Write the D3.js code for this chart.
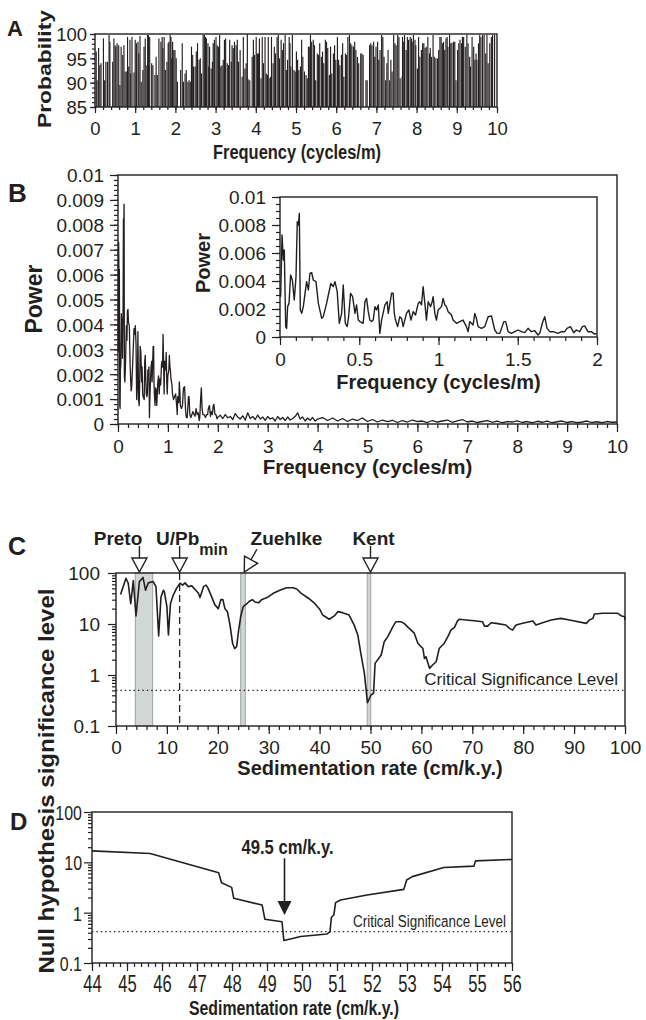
<!DOCTYPE html>
<html>
<head>
<meta charset="utf-8">
<script src="https://cdn.jsdelivr.net/npm/d3@7"></script>
<style>
  body { margin: 0; background: #fff; }
</style>
</head>
<body>
<svg id="fig" width="646" height="1020"></svg>
<script>
// ---- data ----

// A: probability of each spectral line (only lines above 85 % show)
const probFreq = [
  0.03, 0.05, 0.09, 0.12, 0.15, 0.21, 0.24, 0.27, 0.31, 0.35,
  0.37, 0.44, 0.47, 0.50, 0.52, 0.55, 0.59, 0.62, 0.65, 0.69,
  0.72, 0.75, 0.79, 0.81, 0.84, 0.87, 0.89, 0.92, 0.97, 1.00,
  1.03, 1.07, 1.09, 1.12, 1.15, 1.19, 1.22, 1.25, 1.29, 1.31,
  1.33, 1.36, 1.41, 1.44, 1.49, 1.52, 1.55, 1.59, 1.64, 1.67,
  1.69, 1.72, 1.75, 1.79, 1.82, 1.84, 1.87, 1.89, 1.91, 1.93,
  1.96, 1.99, 2.02, 2.05, 2.13, 2.17, 2.20, 2.24, 2.27, 2.31,
  2.34, 2.37, 2.40, 2.43, 2.45, 2.49, 2.52, 2.55, 2.59, 2.62,
  2.65, 2.69, 2.72, 2.75, 2.77, 2.81, 2.83, 2.85, 2.89, 2.92,
  2.94, 2.97, 3.01, 3.04, 3.07, 3.10, 3.13, 3.16, 3.19, 3.22,
  3.25, 3.29, 3.32, 3.35, 3.39, 3.41, 3.44, 3.47, 3.51, 3.54,
  3.57, 3.61, 3.66, 3.69, 3.73, 3.76, 3.79, 3.81, 3.85, 3.91,
  3.94, 3.97, 4.01, 4.04, 4.07, 4.09, 4.13, 4.16, 4.19, 4.23,
  4.26, 4.29, 4.31, 4.35, 4.37, 4.39, 4.43, 4.46, 4.49, 4.53,
  4.56, 4.59, 4.63, 4.66, 4.69, 4.73, 4.76, 4.79, 4.83, 4.85,
  4.87, 4.91, 4.95, 4.98, 5.01, 5.04, 5.07, 5.11, 5.14, 5.17,
  5.21, 5.25, 5.28, 5.31, 5.33, 5.36, 5.39, 5.43, 5.46, 5.49,
  5.53, 5.56, 5.59, 5.63, 5.66, 5.69, 5.73, 5.76, 5.79, 5.83,
  5.86, 5.89, 5.93, 5.96, 5.99, 6.03, 6.06, 6.09, 6.13, 6.16,
  6.19, 6.23, 6.26, 6.29, 6.33, 6.36, 6.39, 6.43, 6.46, 6.49,
  6.53, 6.56, 6.61, 6.64, 6.67, 6.74, 6.77, 6.83, 6.86, 6.89,
  6.93, 6.96, 6.99, 7.03, 7.06, 7.09, 7.13, 7.16, 7.19, 7.23,
  7.26, 7.29, 7.33, 7.36, 7.39, 7.43, 7.46, 7.49, 7.53, 7.56,
  7.59, 7.64, 7.65, 7.68, 7.70, 7.74, 7.77, 7.80, 7.84, 7.87,
  7.89, 7.92, 7.96, 7.98, 8.02, 8.05, 8.08, 8.12, 8.15, 8.18,
  8.21, 8.24, 8.28, 8.32, 8.34, 8.37, 8.41, 8.44, 8.48, 8.52,
  8.55, 8.58, 8.61, 8.64, 8.67, 8.70, 8.73, 8.76, 8.78, 8.82,
  8.85, 8.88, 8.92, 8.95, 8.98, 9.02, 9.05, 9.08, 9.12, 9.14,
  9.17, 9.21, 9.25, 9.28, 9.32, 9.34, 9.38, 9.42, 9.45, 9.48,
  9.50, 9.54, 9.57, 9.60, 9.64, 9.68, 9.72, 9.75, 9.78, 9.82,
  9.86, 9.89, 9.94
];
const probVal = [
  96.4, 90.5, 97.1, 93.6, 94.0, 99.1, 90.5, 94.3, 94.3, 99.8,
  98.4, 94.3, 99.1, 97.7, 97.4, 98.1, 97.7, 89.5, 97.4, 95.7,
  97.7, 92.3, 92.3, 99.4, 93.3, 98.8, 91.9, 99.4, 92.1, 98.8,
  98.1, 98.4, 96.0, 99.6, 90.2, 92.6, 97.4, 99.1, 93.6, 99.8,
  99.8, 99.4, 94.0, 93.6, 91.6, 95.3, 91.6, 99.1, 98.4, 99.4,
  97.1, 99.4, 92.6, 94.3, 98.1, 98.4, 99.8, 99.4, 95.0, 98.4,
  96.7, 96.7, 95.0, 90.2, 92.6, 98.1, 90.2, 91.9, 92.6, 90.2,
  90.5, 90.2, 97.4, 95.7, 93.3, 93.3, 96.4, 98.1, 94.7, 95.0,
  91.9, 99.8, 99.8, 99.4, 99.1, 98.1, 93.3, 97.4, 92.9, 94.3,
  98.1, 98.8, 99.4, 97.7, 97.4, 99.8, 93.3, 93.6, 94.7, 98.8,
  99.1, 94.0, 93.6, 98.8, 94.3, 97.7, 97.1, 98.4, 97.7, 98.8,
  94.3, 96.7, 91.2, 99.4, 92.9, 94.0, 100, 90.7, 90.5, 95.3,
  98.8, 95.7, 99.4, 96.0, 96.0, 99.1, 90.9, 99.4, 94.0, 99.4,
  91.9, 91.6, 99.4, 90.9, 91.2, 99.4, 94.0, 97.4, 96.0, 99.4,
  99.8, 95.0, 98.8, 96.7, 98.1, 99.8, 92.6, 94.7, 99.4, 98.1,
  93.3, 99.8, 92.6, 92.3, 96.4, 94.7, 92.6, 93.3, 98.8, 95.3,
  92.3, 91.6, 90.9, 97.4, 97.4, 99.8, 98.4, 98.8, 97.7, 90.5,
  96.0, 95.7, 98.1, 95.3, 96.4, 94.0, 98.8, 98.4, 97.1, 91.6,
  97.4, 91.9, 96.0, 97.7, 94.7, 99.4, 94.7, 93.6, 95.7, 98.1,
  91.2, 96.0, 95.7, 99.4, 99.8, 98.1, 97.7, 97.4, 98.4, 96.7,
  95.3, 94.0, 96.0, 96.0, 95.7, 90.5, 90.5, 97.7, 98.1, 97.7,
  98.4, 95.3, 97.4, 98.4, 94.7, 96.7, 99.8, 99.4, 95.3, 90.5,
  94.0, 96.7, 90.5, 94.7, 92.3, 99.8, 98.1, 97.7, 99.8, 99.4,
  90.9, 91.2, 99.4, 98.4, 99.8, 96.7, 99.4, 98.8, 99.4, 99.1,
  98.4, 99.8, 98.8, 97.7, 92.9, 99.4, 95.3, 96.7, 98.1, 98.1,
  97.1, 97.4, 99.4, 96.0, 97.1, 95.3, 99.8, 95.3, 95.0, 95.0,
  96.7, 99.4, 99.4, 98.1, 98.4, 96.7, 99.1, 99.4, 97.4, 99.8,
  98.1, 98.2, 98.4, 98.4, 90.5, 96.7, 98.1, 98.8, 98.1, 99.4,
  99.4, 97.4, 99.8, 98.1, 95.3, 93.3, 99.4, 97.4, 94.7, 96.0,
  94.7, 98.1, 99.8, 99.4, 99.8, 99.8, 96.0, 99.8, 94.0, 98.1,
  99.4, 99.8, 99.8
];

// B: power spectrum (power in units of 1e-3)
const powerFreq = [
  0.004, 0.013, 0.021, 0.027, 0.036, 0.042, 0.048, 0.057, 0.067, 0.078,
  0.090, 0.101, 0.109, 0.116, 0.122, 0.128, 0.137, 0.147, 0.158, 0.168,
  0.179, 0.189, 0.200, 0.210, 0.227, 0.242, 0.263, 0.273, 0.294, 0.305,
  0.321, 0.336, 0.347, 0.361, 0.374, 0.389, 0.399, 0.412, 0.424, 0.433,
  0.445, 0.458, 0.473, 0.483, 0.494, 0.504, 0.525, 0.536, 0.546, 0.557,
  0.567, 0.578, 0.588, 0.599, 0.609, 0.620, 0.630, 0.641, 0.662, 0.676,
  0.683, 0.704, 0.714, 0.721, 0.729, 0.742, 0.756, 0.767, 0.777, 0.798,
  0.813, 0.826, 0.840, 0.855, 0.872, 0.882, 0.893, 0.903, 0.914, 0.924,
  0.935, 0.950, 0.960, 0.966, 0.977, 0.987, 0.998, 1.019, 1.029, 1.040,
  1.050, 1.061, 1.082, 1.092, 1.113, 1.134, 1.155, 1.176, 1.187, 1.197,
  1.218, 1.229, 1.239, 1.250, 1.271, 1.292, 1.313, 1.334, 1.355, 1.370,
  1.387, 1.412, 1.424, 1.439, 1.460, 1.481, 1.502, 1.523, 1.544, 1.565,
  1.586, 1.607, 1.628, 1.639, 1.655, 1.670, 1.685, 1.702, 1.723, 1.754,
  1.775, 1.796, 1.811, 1.832, 1.853, 1.870, 1.891, 1.908, 1.922, 1.943,
  1.964, 1.985, 1.996,
  2.05, 2.10, 2.15, 2.20, 2.25, 2.30, 2.35, 2.40, 2.45, 2.50,
  2.55, 2.60, 2.65, 2.70, 2.75, 2.80, 2.85, 2.90, 2.95, 3.00,
  3.05, 3.10, 3.15, 3.20, 3.25, 3.30, 3.35, 3.40, 3.45, 3.50,
  3.55, 3.60, 3.65, 3.70, 3.75, 3.80, 3.85, 3.90, 3.95, 4.00,
  4.1, 4.2, 4.3, 4.4, 4.5, 4.6, 4.7, 4.8, 4.9, 5.0,
  5.1, 5.2, 5.3, 5.4, 5.5, 5.6, 5.7, 5.8, 5.9, 6.0,
  6.1, 6.2, 6.3, 6.4, 6.5, 6.6, 6.7, 6.8, 6.9, 7.0,
  7.1, 7.2, 7.3, 7.4, 7.5, 7.6, 7.7, 7.8, 7.9, 8.0,
  8.1, 8.2, 8.3, 8.4, 8.5, 8.6, 8.7, 8.8, 8.9, 9.0,
  9.1, 9.2, 9.3, 9.4, 9.5, 9.6, 9.7, 9.8, 9.9, 10.0
];
const powerE3 = [
  2.88, 7.29, 5.50, 6.21, 0.74, 0.62, 2.17, 2.40, 4.43, 4.07,
  2.64, 4.31, 8.24, 8.00, 8.83, 1.93, 1.69, 2.17, 3.12, 3.95,
  3.36, 4.55, 4.60, 4.07, 3.95, 2.40, 1.33, 1.45, 2.40, 3.00,
  3.83, 3.60, 3.95, 3.24, 0.98, 1.69, 3.71, 0.98, 0.74, 1.45,
  3.12, 2.88, 1.69, 2.29, 1.21, 1.10, 0.98, 2.52, 2.76, 1.81,
  1.21, 1.10, 1.21, 2.17, 1.93, 2.29, 0.26, 1.21, 2.29, 2.52,
  1.69, 3.12, 3.12, 1.69, 1.21, 0.74, 1.45, 1.33, 0.74, 1.69,
  1.93, 1.21, 1.81, 1.57, 2.40, 2.52, 2.29, 3.60, 2.40, 1.21,
  2.52, 2.17, 2.52, 2.88, 1.69, 1.21, 1.93, 2.17, 2.76, 2.29,
  2.17, 1.81, 1.57, 1.21, 0.98, 1.10, 1.21, 0.74, 0.38, 1.10,
  0.86, 1.69, 1.33, 0.74, 0.62, 0.74, 1.45, 1.50, 0.50, 0.26,
  0.26, 1.10, 1.10, 0.38, 0.26, 0.38, 0.50, 0.38, 0.31, 0.62,
  0.38, 0.45, 0.14, 0.26, 0.98, 1.45, 0.62, 0.38, 0.38, 0.26,
  0.38, 0.38, 0.62, 0.74, 0.31, 0.50, 0.38, 0.74, 0.79, 0.38,
  0.38, 0.21, 0.26,
  0.35, 0.22, 0.38, 0.25, 0.30, 0.18, 0.42, 0.28, 0.20, 0.33,
  0.15, 0.45, 0.22, 0.30, 0.18, 0.36, 0.20, 0.28, 0.15, 0.30,
  0.20, 0.25, 0.12, 0.30, 0.18, 0.26, 0.14, 0.28, 0.16, 0.22,
  0.30, 0.45, 0.20, 0.28, 0.12, 0.24, 0.15, 0.26, 0.12, 0.20,
  0.26, 0.14, 0.24, 0.12, 0.22, 0.10, 0.20, 0.14, 0.24, 0.10,
  0.18, 0.08, 0.16, 0.10, 0.15, 0.06, 0.14, 0.08, 0.16, 0.10,
  0.12, 0.06, 0.14, 0.08, 0.12, 0.16, 0.07, 0.13, 0.18, 0.08,
  0.12, 0.06, 0.10, 0.14, 0.07, 0.12, 0.05, 0.10, 0.08, 0.13,
  0.06, 0.10, 0.05, 0.11, 0.07, 0.12, 0.05, 0.09, 0.12, 0.06,
  0.10, 0.05, 0.08, 0.12, 0.06, 0.09, 0.05, 0.10, 0.07, 0.08
];

// C: null hypothesis significance level vs sedimentation rate
const sedRate = [
  0.9, 1.96, 2.4, 2.9, 3.4, 3.93, 4.6, 5.0, 5.3, 5.8,
  6.35, 7.3, 7.85, 8.38, 8.84, 9.3, 9.5, 10.0, 10.3, 10.7,
  11.25, 11.9, 12.57, 13.1, 13.56, 14.2, 14.9, 15.5, 16.2, 16.5,
  17.2, 17.7, 18.1, 18.8, 19.4, 20.1, 20.6, 21.0, 21.4, 21.9,
  22.4, 22.9, 23.3, 23.7, 24.1, 24.5, 25.0, 25.7, 26.2, 26.8,
  27.3, 28.0, 28.6, 29.3, 29.9, 30.9, 32.2, 33.5, 34.8, 35.5,
  36.4, 37.8, 39.1, 40.1, 40.6, 41.9, 42.9, 43.6, 44.5, 45.8,
  46.8, 47.5, 48.1, 48.8, 49.4, 50.1, 50.6, 50.9, 52.1, 52.7,
  53.4, 54.4, 55.0, 56.0, 56.6, 57.6, 58.6, 59.3, 60.3, 60.6,
  60.9, 61.6, 62.2, 62.9, 63.5, 64.5, 65.2, 65.8, 66.5, 67.1,
  67.4, 68.8, 70.4, 72.0, 72.4, 73.0, 73.7, 74.7, 76.6, 77.3,
  77.9, 78.6, 79.9, 81.9, 82.5, 83.8, 85.5, 87.4, 89.1, 92.4,
  93.0, 93.7, 94.0, 95.6, 98.6, 99.3, 99.9, 100
];
const sedSig = [
  38, 79, 63, 25, 71, 14.4, 68, 75, 82, 46,
  64, 68, 54, 5.8, 34, 46, 43, 22, 6.1, 25,
  37, 50, 63, 58, 64, 54, 56, 48, 40, 33,
  54, 58, 50, 34, 24, 20, 30, 30, 20, 17.4,
  9.5, 4.2, 3.3, 3.6, 7.6, 14, 22, 25, 28, 30,
  27, 26, 30, 32, 34, 40, 46, 51.5, 51.5, 48.5,
  40, 32, 25, 19, 15, 12.4, 14.4, 17.5, 16.7, 15,
  9.5, 6.1, 2.66, 1.08, 0.286, 0.405, 0.44, 1.69, 2.47, 4.5,
  5.65, 8.9, 11.1, 11.1, 10.3, 8.2, 6.6, 4.2, 3.3, 2.1,
  2.29, 1.35, 1.57, 1.82, 3.3, 4.2, 5.65, 7.6, 8.6, 11.5,
  12.4, 12, 11.6, 11.1, 9.1, 9.1, 10.6, 10.3, 9.55, 8.2,
  7.6, 9.55, 10.3, 11.5, 9.55, 10.6, 12, 12.9, 12, 10.3,
  12, 12.9, 15.7, 16.2, 16.2, 14.4, 14, 12
];

// C: dated constraints (shaded bands) and arrows
const bandStart = [3.8, 24.5, 49.35];
const bandEnd = [7.2, 25.4, 50.05];
const markerRate = [4.6, 12.5, 25.2, 50];
const markerTilt = [0, 0, 29, 0];
const uPbMin = 12.5;
const criticalC = 0.5;

// D: close-up round the minimum
const fineRate = [
  44, 45.66, 47.62, 47.7, 47.99, 48.05, 48.86, 48.94, 49.43, 49.48,
  49.67, 49.96, 50.34, 50.72, 50.8, 50.84, 50.91, 50.96, 51.1, 51.86,
  52.91, 52.99, 53.15, 54.05, 54.91, 54.96, 56
];
const fineSig = [
  16.9, 15, 6.2, 3.93, 3.18, 1.93, 1.42, 0.74, 0.66, 0.28,
  0.30, 0.335, 0.356, 0.378, 0.42, 0.81, 0.9, 1.58, 1.78, 2.24,
  2.9, 4.45, 5.2, 7.9, 8.4, 10.7, 11.4
];
const criticalD = 0.42;
const bestRate = 49.5;

// tick values
const freqTicks = d3.range(0, 11);
const probTicks = [85, 90, 95, 100];
const powerTicks = [0, 0.001, 0.002, 0.003, 0.004, 0.005, 0.006, 0.007, 0.008, 0.009, 0.01];
const insetPowerTicks = [0, 0.002, 0.004, 0.006, 0.008, 0.01];
const insetFreqTicks = [0, 0.5, 1, 1.5, 2];
const logTicks = [0.1, 1, 10, 100];
const rateTicks = d3.range(0, 101, 10);
const fineTicks = d3.range(44, 57);

// ---- drawing ----
const ink = '#231f20';
const FONT = '"Liberation Sans", Arial, Helvetica, sans-serif';
const svg = d3.select('#fig').attr('font-family', FONT);
svg.append('rect').attr('width', 646).attr('height', 1020).attr('fill', '#fff');

const logMinor = [0.1, 1, 10].flatMap(d => d3.range(2, 10).map(k => k * d));

// narrow the glyphs of a text selection by ratio r
function squeeze(sel, r) {
  sel.each(function() {
    const w = this.getComputedTextLength();
    d3.select(this).attr('textLength', w * r).attr('lengthAdjust', 'spacingAndGlyphs');
  });
}

function tidy(a) {
  a.select('.domain').remove();
  a.attr('font-family', FONT).attr('font-size', 19);
  a.selectAll('line').attr('stroke', ink).attr('stroke-width', 1.2);
  a.selectAll('text').attr('fill', ink);
}

function xAxis(g, x, y0, major, minor, fmt, o = {}) {
  g.append('g').attr('transform', `translate(0,${y0})`)
    .call(d3.axisBottom(x).tickValues(minor).tickSize(o.small || 4).tickFormat(''))
    .call(tidy);
  const a = g.append('g').attr('transform', `translate(0,${y0})`)
    .call(d3.axisBottom(x).tickValues(major).tickSize(o.big || 8).tickFormat(fmt))
    .call(tidy);
  const t = a.selectAll('text').attr('y', o.base).attr('dy', null).attr('font-size', o.fs || 19);
  if (o.squeeze) squeeze(t, o.squeeze);
}

function yAxis(g, y, x0, major, minor, fmt, o = {}) {
  g.append('g').attr('transform', `translate(${x0},0)`)
    .call(d3.axisLeft(y).tickValues(minor).tickSize(o.small || 4).tickFormat(''))
    .call(tidy);
  const a = g.append('g').attr('transform', `translate(${x0},0)`)
    .call(d3.axisLeft(y).tickValues(major).tickSize(o.big || 8).tickFormat(fmt))
    .call(tidy);
  const t = a.selectAll('text').attr('x', -o.gap).attr('dy', '0.36em').attr('font-size', o.fs || 19);
  if (o.squeeze) squeeze(t, o.squeeze);
}

function frame(g, x, y) {
  const [x0, x1] = x.range(), [ya, yb] = y.range();
  g.append('rect')
    .attr('x', x0).attr('y', Math.min(ya, yb))
    .attr('width', x1 - x0).attr('height', Math.abs(yb - ya))
    .attr('fill', 'none').attr('stroke', ink).attr('stroke-width', 1.4);
}

function label(g, txt, x, y, o = {}) {
  const t = g.append('text')
    .attr('x', x).attr('y', y)
    .attr('font-size', o.size || 19)
    .attr('font-weight', o.bold ? 'bold' : 'normal')
    .attr('text-anchor', o.anchor || 'middle')
    .attr('fill', ink)
    .text(txt);
  if (o.rotate) t.attr('transform', `rotate(-90,${x},${y})`);
  if (o.len) t.attr('textLength', o.len).attr('lengthAdjust', 'spacingAndGlyphs');
  return t;
}

const fmt = d => String(d);

// ---------- A ----------
const gA = svg.append('g');
const xA = d3.scaleLinear([0, 10], [95, 497]);
const yA = d3.scaleLinear([85, 100], [107, 34]);

gA.selectAll('line.bar')
  .data(probFreq)
  .join('line')
  .attr('class', 'bar')
  .attr('x1', d => xA(d)).attr('x2', d => xA(d))
  .attr('y1', yA(85))
  .attr('y2', (d, i) => yA(probVal[i]))
  .attr('stroke', ink).attr('stroke-width', 1.15);

frame(gA, xA, yA);
xAxis(gA, xA, 107, freqTicks, d3.range(0, 51).map(i => i * 0.2), fmt, { base: 28, big: 6, small: 3, fs: 18.5 });
yAxis(gA, yA, 95, probTicks, d3.range(85, 101), fmt, { gap: 8, big: 5, small: 3, fs: 18.5 });
label(gA, 'A', 7, 36, { size: 22, bold: true, anchor: 'start' });
label(gA, 'Probability', 51, 69, { size: 19, bold: true, rotate: true, len: 118 });
label(gA, 'Frequency (cycles/m)', 297, 159, { size: 20, bold: true, len: 168 });

// ---------- B ----------
const gB = svg.append('g');
const xB = d3.scaleLinear([0, 10], [118, 617]);
const yB = d3.scaleLinear([0, 0.01], [424, 175]);
const spectrum = powerFreq.map((f, i) => [f, powerE3[i] * 1e-3]);

gB.append('path')
  .datum(spectrum)
  .attr('d', d3.line().x(d => xB(d[0])).y(d => yB(d[1])))
  .attr('fill', 'none').attr('stroke', ink).attr('stroke-width', 1.3)
  .attr('stroke-linejoin', 'round');

frame(gB, xB, yB);
xAxis(gB, xB, 424, freqTicks, d3.range(0, 51).map(i => i * 0.2), fmt, { base: 29 });
yAxis(gB, yB, 118, powerTicks, d3.range(0, 51).map(i => i * 0.0002), fmt, { gap: 14 });
label(gB, 'B', 8, 202, { size: 26, bold: true, anchor: 'start' });
label(gB, 'Power', 42, 299, { size: 23, bold: true, rotate: true });
label(gB, 'Frequency (cycles/m)', 367.5, 474, { size: 20.5, bold: true });

// inset: 0-2 cycles/m
const gI = svg.append('g');
const xI = d3.scaleLinear([0, 2], [280, 597]);
const yI = d3.scaleLinear([0, 0.01], [337, 197]);
gI.append('rect').attr('x', 280).attr('y', 197).attr('width', 317).attr('height', 140).attr('fill', '#fff');
gI.append('path')
  .datum(spectrum.filter(d => d[0] <= 2))
  .attr('d', d3.line().x(d => xI(d[0])).y(d => yI(d[1])))
  .attr('fill', 'none').attr('stroke', ink).attr('stroke-width', 1.4)
  .attr('stroke-linejoin', 'round');
frame(gI, xI, yI);
xAxis(gI, xI, 337, insetFreqTicks, d3.range(0, 21).map(i => i * 0.1), fmt, { base: 29 });
yAxis(gI, yI, 280, insetPowerTicks, d3.range(0, 21).map(i => i * 0.0005), fmt, { gap: 14 });
label(gI, 'Power', 210, 263, { size: 20, bold: true, rotate: true });
label(gI, 'Frequency (cycles/m)', 438.5, 389, { size: 20, bold: true });

// ---------- C ----------
const gC = svg.append('g');
const xC = d3.scaleLinear([0, 100], [116, 625]);
const yC = d3.scaleLog([0.1, 100], [726, 573]);

gC.selectAll('rect.band')
  .data(bandStart)
  .join('rect')
  .attr('class', 'band')
  .attr('x', d => xC(d))
  .attr('width', (d, i) => xC(bandEnd[i]) - xC(d))
  .attr('y', yC(100)).attr('height', yC(0.1) - yC(100))
  .attr('fill', '#d2d6d6').attr('stroke', '#9ea3a3').attr('stroke-width', 1);

gC.append('line')
  .attr('x1', xC(uPbMin)).attr('x2', xC(uPbMin))
  .attr('y1', yC(100)).attr('y2', yC(0.1))
  .attr('stroke', ink).attr('stroke-width', 1.3).attr('stroke-dasharray', '7 4');

gC.append('line')
  .attr('x1', xC(0)).attr('x2', xC(100))
  .attr('y1', yC(criticalC)).attr('y2', yC(criticalC))
  .attr('stroke', ink).attr('stroke-width', 1.4).attr('stroke-dasharray', '1.4 3');

gC.append('path')
  .datum(sedRate.map((r, i) => [r, sedSig[i]]))
  .attr('d', d3.line().x(d => xC(d[0])).y(d => yC(d[1])))
  .attr('fill', 'none').attr('stroke', ink).attr('stroke-width', 1.6)
  .attr('stroke-linejoin', 'round');

frame(gC, xC, yC);
xAxis(gC, xC, 726, rateTicks, d3.range(0, 101, 2), fmt, { base: 28 });
yAxis(gC, yC, 116, logTicks, logMinor, fmt, { gap: 16 });

// arrows pointing at the constraints
const arrows = gC.selectAll('g.arrow')
  .data(markerRate)
  .join('g')
  .attr('class', 'arrow')
  .attr('transform', (d, i) => `translate(${xC(d)},${yC(100) - 1}) rotate(${markerTilt[i]})`);
arrows.append('line')
  .attr('x1', 0).attr('x2', 0).attr('y1', -14).attr('y2', -26)
  .attr('stroke', ink).attr('stroke-width', 1.4);
arrows.append('path')
  .attr('d', 'M-7.5,-14 L7.5,-14 L0,0 Z')
  .attr('fill', '#fff').attr('stroke', ink).attr('stroke-width', 1.4);

label(gC, 'Preto', 118, 545, { size: 19, bold: true });
const uPb = label(gC, 'U/Pb', 156, 545, { size: 19, bold: true, anchor: 'start' });
uPb.append('tspan').attr('dy', 10).attr('font-size', 16).text('min');
label(gC, 'Zuehlke', 286.5, 545, { size: 19, bold: true });
label(gC, 'Kent', 373.5, 545, { size: 19, bold: true });

label(gC, 'Critical Significance Level', 618, yC(criticalC) - 5, { size: 17, anchor: 'end' });
label(gC, 'C', 8, 555, { size: 25, bold: true, anchor: 'start' });
label(gC, 'Sedimentation rate (cm/k.y.)', 370, 775, { size: 20, bold: true });

// ---------- D ----------
const gD = svg.append('g');
const xD = d3.scaleLinear([44, 56], [92, 512]);
const yD = d3.scaleLog([0.1, 100], [963, 812]);

gD.append('line')
  .attr('x1', xD(44)).attr('x2', xD(56))
  .attr('y1', yD(criticalD)).attr('y2', yD(criticalD))
  .attr('stroke', ink).attr('stroke-width', 1.4).attr('stroke-dasharray', '1.4 3');

gD.append('path')
  .datum(fineRate.map((r, i) => [r, fineSig[i]]))
  .attr('d', d3.line().x(d => xD(d[0])).y(d => yD(d[1])))
  .attr('fill', 'none').attr('stroke', ink).attr('stroke-width', 1.6)
  .attr('stroke-linejoin', 'round');

frame(gD, xD, yD);
xAxis(gD, xD, 963, fineTicks, d3.range(0, 61).map(i => 44 + i * 0.2), fmt, { base: 29, fs: 23, squeeze: 0.72 });
yAxis(gD, yD, 92, logTicks, logMinor, fmt, { gap: 10, fs: 21, squeeze: 0.76 });

// arrow at the best-fit rate
const ax = xD(bestRate);
gD.append('line')
  .attr('x1', ax).attr('x2', ax).attr('y1', yD(12)).attr('y2', yD(0.9) - 13)
  .attr('stroke', ink).attr('stroke-width', 1.6);
gD.append('path')
  .attr('d', `M${ax - 7},${yD(0.9) - 14} L${ax + 7},${yD(0.9) - 14} L${ax},${yD(0.9)} Z`)
  .attr('fill', ink);
label(gD, `${bestRate} cm/k.y.`, ax + 3, yD(12) - 4, { size: 19.5, bold: true, len: 92 });

label(gD, 'Critical Significance Level', 506, yD(criticalD) - 5, { size: 16, anchor: 'end', len: 153 });
label(gD, 'D', 10, 830, { size: 24, bold: true, anchor: 'start' });
label(gD, 'Sedimentation rate (cm/k.y.)', 294, 1015, { size: 20.5, bold: true, len: 210 });

// shared y title for C and D
label(svg, 'Null hypothesis significance level', 54, 781, { size: 22.5, bold: true, rotate: true, len: 385 });
</script>
</body>
</html>
